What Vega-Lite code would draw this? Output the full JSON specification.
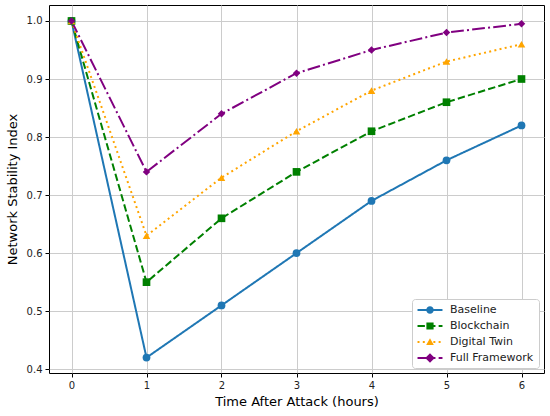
{
  "$schema": "https://vega.github.io/schema/vega-lite/v6.json",
  "width": 495,
  "height": 368,
  "autosize": {"type": "none"},
  "padding": {"left": 49, "top": 5, "right": 6, "bottom": 43},
  "background": "white",
  "data": {
    "values": [
      {"hour": 0, "series": "Baseline", "value": 1.0},
      {"hour": 1, "series": "Baseline", "value": 0.42},
      {"hour": 2, "series": "Baseline", "value": 0.51},
      {"hour": 3, "series": "Baseline", "value": 0.60},
      {"hour": 4, "series": "Baseline", "value": 0.69},
      {"hour": 5, "series": "Baseline", "value": 0.76},
      {"hour": 6, "series": "Baseline", "value": 0.82},
      {"hour": 0, "series": "Blockchain", "value": 1.0},
      {"hour": 1, "series": "Blockchain", "value": 0.55},
      {"hour": 2, "series": "Blockchain", "value": 0.66},
      {"hour": 3, "series": "Blockchain", "value": 0.74},
      {"hour": 4, "series": "Blockchain", "value": 0.81},
      {"hour": 5, "series": "Blockchain", "value": 0.86},
      {"hour": 6, "series": "Blockchain", "value": 0.90},
      {"hour": 0, "series": "Digital Twin", "value": 1.0},
      {"hour": 1, "series": "Digital Twin", "value": 0.63},
      {"hour": 2, "series": "Digital Twin", "value": 0.73},
      {"hour": 3, "series": "Digital Twin", "value": 0.81},
      {"hour": 4, "series": "Digital Twin", "value": 0.88},
      {"hour": 5, "series": "Digital Twin", "value": 0.93},
      {"hour": 6, "series": "Digital Twin", "value": 0.96},
      {"hour": 0, "series": "Full Framework", "value": 1.0},
      {"hour": 1, "series": "Full Framework", "value": 0.74},
      {"hour": 2, "series": "Full Framework", "value": 0.84},
      {"hour": 3, "series": "Full Framework", "value": 0.91},
      {"hour": 4, "series": "Full Framework", "value": 0.95},
      {"hour": 5, "series": "Full Framework", "value": 0.98},
      {"hour": 6, "series": "Full Framework", "value": 0.995}
    ]
  },
  "encoding": {
    "x": {
      "field": "hour",
      "type": "quantitative",
      "title": "Time After Attack (hours)",
      "scale": {"domain": [-0.3, 6.3], "nice": false, "zero": false},
      "axis": {"values": [0, 1, 2, 3, 4, 5, 6], "format": "d"}
    },
    "y": {
      "field": "value",
      "type": "quantitative",
      "title": "Network Stability Index",
      "scale": {"domain": [0.3935, 1.0275], "nice": false, "zero": false},
      "axis": {"values": [0.4, 0.5, 0.6, 0.7, 0.8, 0.9, 1.0], "format": ".1f"}
    }
  },
  "layer": [
    {
      "mark": {"type": "line", "strokeWidth": 2},
      "encoding": {
        "color": {
          "field": "series",
          "type": "nominal",
          "scale": {
            "domain": ["Baseline", "Blockchain", "Digital Twin", "Full Framework"],
            "range": ["#1f77b4", "#008000", "#ffa500", "#800080"]
          },
          "legend": null
        },
        "strokeDash": {
          "field": "series",
          "type": "nominal",
          "scale": {
            "domain": ["Baseline", "Blockchain", "Digital Twin", "Full Framework"],
            "range": [[1, 0], [7.4, 3.2], [2, 3.3], [12.8, 3.2, 2, 3.2]]
          },
          "legend": null
        }
      }
    },
    {
      "mark": {"type": "point", "filled": true, "opacity": 1},
      "encoding": {
        "color": {
          "field": "series",
          "type": "nominal",
          "scale": {
            "domain": ["Baseline", "Blockchain", "Digital Twin", "Full Framework"],
            "range": ["#1f77b4", "#008000", "#ffa500", "#800080"]
          },
          "legend": null
        },
        "shape": {
          "field": "series",
          "type": "nominal",
          "scale": {
            "domain": ["Baseline", "Blockchain", "Digital Twin", "Full Framework"],
            "range": ["circle", "square", "triangle-up", "diamond"]
          },
          "legend": null
        },
        "size": {
          "field": "series",
          "type": "nominal",
          "scale": {
            "domain": ["Baseline", "Blockchain", "Digital Twin", "Full Framework"],
            "range": [60, 56, 70, 120]
          },
          "legend": null
        }
      }
    },
    {
      "mark": {"type": "point", "filled": true, "size": 0, "opacity": 1},
      "encoding": {
        "color": {
          "field": "series",
          "type": "nominal",
          "scale": {
            "domain": ["Baseline", "Blockchain", "Digital Twin", "Full Framework"],
            "range": ["#1f77b4", "#008000", "#ffa500", "#800080"]
          },
          "legend": {
            "title": null,
            "orient": "bottom-right",
            "offset": 5,
            "padding": 5,
            "rowPadding": 5,
            "strokeColor": "#cccccc",
            "fillColor": "white",
            "cornerRadius": 3,
            "symbolSize": 144,
            "symbolStrokeWidth": 0,
            "symbolOpacity": 1,
            "symbolOffset": 7,
            "labelOffset": 14,
            "labelFontSize": 11,
            "labelFont": "DejaVu Sans",
            "labelColor": "#222222"
          }
        },
        "shape": {
          "field": "series",
          "type": "nominal",
          "scale": {
            "domain": ["Baseline", "Blockchain", "Digital Twin", "Full Framework"],
            "range": [
              "M-2.08,-0.17H2.08V0.17H-2.08Z M0.62,0A0.62,0.62 0 1,1 -0.62,0A0.62,0.62 0 1,1 0.62,0Z",
              "M-2.08,-0.17H-0.85V0.17H-2.08Z M-0.32,-0.17H0.91V0.17H-0.32Z M1.44,-0.17H2.08V0.17H1.44Z M-0.6,-0.6H0.6V0.6H-0.6Z",
              "M-2.08,-0.17H-1.75V0.17H-2.08Z M-1.2,-0.17H-0.87V0.17H-1.2Z M0.56,-0.17H0.89V0.17H0.56Z M1.44,-0.17H1.77V0.17H1.44Z M0,-0.62L0.64,0.5H-0.64Z",
              "M-2.08,-0.17H0.05V0.17H-2.08Z M0.58,-0.17H0.91V0.17H0.58Z M1.44,-0.17H2.08V0.17H1.44Z M0,-0.8L0.8,0L0,0.8L-0.8,0Z"
            ]
          },
          "legend": {
            "title": null,
            "orient": "bottom-right",
            "offset": 5,
            "padding": 5,
            "rowPadding": 5,
            "strokeColor": "#cccccc",
            "fillColor": "white",
            "cornerRadius": 3,
            "symbolSize": 144,
            "symbolStrokeWidth": 0,
            "symbolOpacity": 1,
            "symbolOffset": 7,
            "labelOffset": 14,
            "labelFontSize": 11,
            "labelFont": "DejaVu Sans",
            "labelColor": "#222222"
          }
        }
      }
    }
  ],
  "resolve": {"scale": {"shape": "independent", "color": "independent"}},
  "config": {
    "view": {"stroke": "#000000", "strokeWidth": 1},
    "font": "DejaVu Sans",
    "axis": {
      "grid": true,
      "gridColor": "#cccccc",
      "gridWidth": 1,
      "domain": false,
      "tickColor": "#000000",
      "tickSize": 4,
      "labelFontSize": 10,
      "labelColor": "#222222",
      "labelPadding": 3,
      "titleFontSize": 13,
      "titleFontWeight": "normal",
      "titleColor": "#000000"
    },
    "axisX": {"titlePadding": 5},
    "axisY": {"titlePadding": 7}
  }
}
